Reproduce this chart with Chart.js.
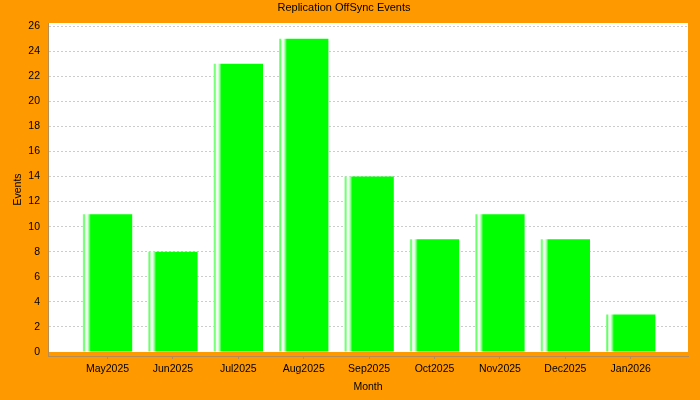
<!DOCTYPE html>
<html>
<head>
<meta charset="utf-8">
<script src="https://cdn.jsdelivr.net/npm/chart.js@4/dist/chart.umd.min.js"></script>
<style>
  html, body { margin: 0; padding: 0; background: #ff9900; }
  #wrap { width: 700px; height: 400px; }
  canvas { display: block; }
</style>
</head>
<body>
<div id="wrap"><canvas id="c" width="700" height="400"></canvas></div>
<script>
const categories = ["May2025", "Jun2025", "Jul2025", "Aug2025", "Sep2025", "Oct2025", "Nov2025", "Dec2025", "Jan2026"];
const events = [11, 8, 23, 25, 14, 9, 11, 9, 3];
const yTickValues = [0, 2, 4, 6, 8, 10, 12, 14, 16, 18, 20, 22, 24, 26];

const FONT = "'Liberation Sans', Arial, sans-serif";
const AXIS_LINE = 'rgb(182,140,84)';
const BAR_PCT = 0.755;

const plotBg = {
  id: 'plotBg',
  beforeDraw(chart) {
    const { ctx, chartArea: a, scales } = chart;
    const y0 = scales.y.getPixelForValue(0);
    ctx.save();
    ctx.fillStyle = '#ffffff';
    ctx.fillRect(a.left, a.top, a.right - a.left, y0 - a.top);
    ctx.restore();
  }
};

function barFill(context) {
  const chart = context.chart;
  const xs = chart.scales && chart.scales.x;
  if (!xs || !chart.chartArea) return '#00ff00';
  const c = xs.getPixelForValue(context.dataIndex);
  const w = BAR_PCT * (xs.getPixelForValue(1) - xs.getPixelForValue(0));
  const l = c - w / 2;
  const g = chart.ctx.createLinearGradient(l, 0, l + w, 0);
  g.addColorStop(0.0, '#99ff99');
  g.addColorStop(0.03, '#66ff66');
  g.addColorStop(0.06, '#ffffff');
  g.addColorStop(0.09, '#e8ffe8');
  g.addColorStop(0.12, '#99ff99');
  g.addColorStop(0.16, '#00ff00');
  g.addColorStop(1.0, '#00ff00');
  return g;
}

new Chart(document.getElementById('c'), {
  type: 'bar',
  data: {
    datasets: [{
      label: 'Events',
      data: categories.map((c, i) => ({ x: i, y: events[i] })),
      backgroundColor: barFill,
      borderWidth: 0,
      categoryPercentage: 1,
      barPercentage: BAR_PCT
    }]
  },
  options: {
    responsive: false,
    animation: false,
    devicePixelRatio: 1,
    layout: { padding: { left: 0, right: 12, top: 0, bottom: 0 } },
    plugins: {
      legend: { display: false },
      tooltip: { enabled: false },
      title: {
        display: true,
        text: 'Replication OffSync Events',
        color: '#000000',
        font: { family: FONT, size: 11, weight: 'normal' },
        padding: { top: 1, bottom: 8.8 }
      }
    },
    scales: {
      x: {
        type: 'linear',
        offset: false,
        min: -0.91,
        max: 8.876,
        afterBuildTicks(scale) { scale.ticks = categories.map((_, i) => ({ value: i })); },
        afterFit(scale) { scale.height = 44; },
        ticks: {
          callback: (v) => categories[v] !== undefined ? categories[v] : '',
          color: '#000000',
          font: { family: FONT, size: 10.5 },
          padding: 4,
          maxRotation: 0,
          autoSkip: false
        },
        grid: {
          display: true,
          offset: false,
          drawOnChartArea: false,
          drawTicks: true,
          tickLength: 3,
          tickColor: AXIS_LINE
        },
        border: { display: true, color: AXIS_LINE, width: 1 },
        title: {
          display: true,
          text: 'Month',
          color: '#000000',
          font: { family: FONT, size: 10.5 },
          padding: { top: 0, bottom: 6.6 }
        }
      },
      y: {
        min: -0.32,
        max: 26.25,
        afterBuildTicks(scale) { scale.ticks = yTickValues.map(v => ({ value: v })); },
        afterFit(scale) { scale.width = 48; },
        ticks: {
          color: '#000000',
          font: { family: FONT, size: 10.5 },
          padding: 8
        },
        grid: {
          drawTicks: false,
          color: (ctx) => ctx.tick && ctx.tick.value === 0 ? 'rgba(0,0,0,0)' : '#cccccc',
          lineWidth: 1
        },
        border: { display: true, color: AXIS_LINE, width: 1, dash: [2, 2], dashOffset: 0 },
        title: {
          display: true,
          text: 'Events',
          color: '#000000',
          font: { family: FONT, size: 10.5 },
          padding: { top: 12, bottom: 0 }
        }
      }
    }
  },
  plugins: [plotBg]
});
</script>
</body>
</html>
